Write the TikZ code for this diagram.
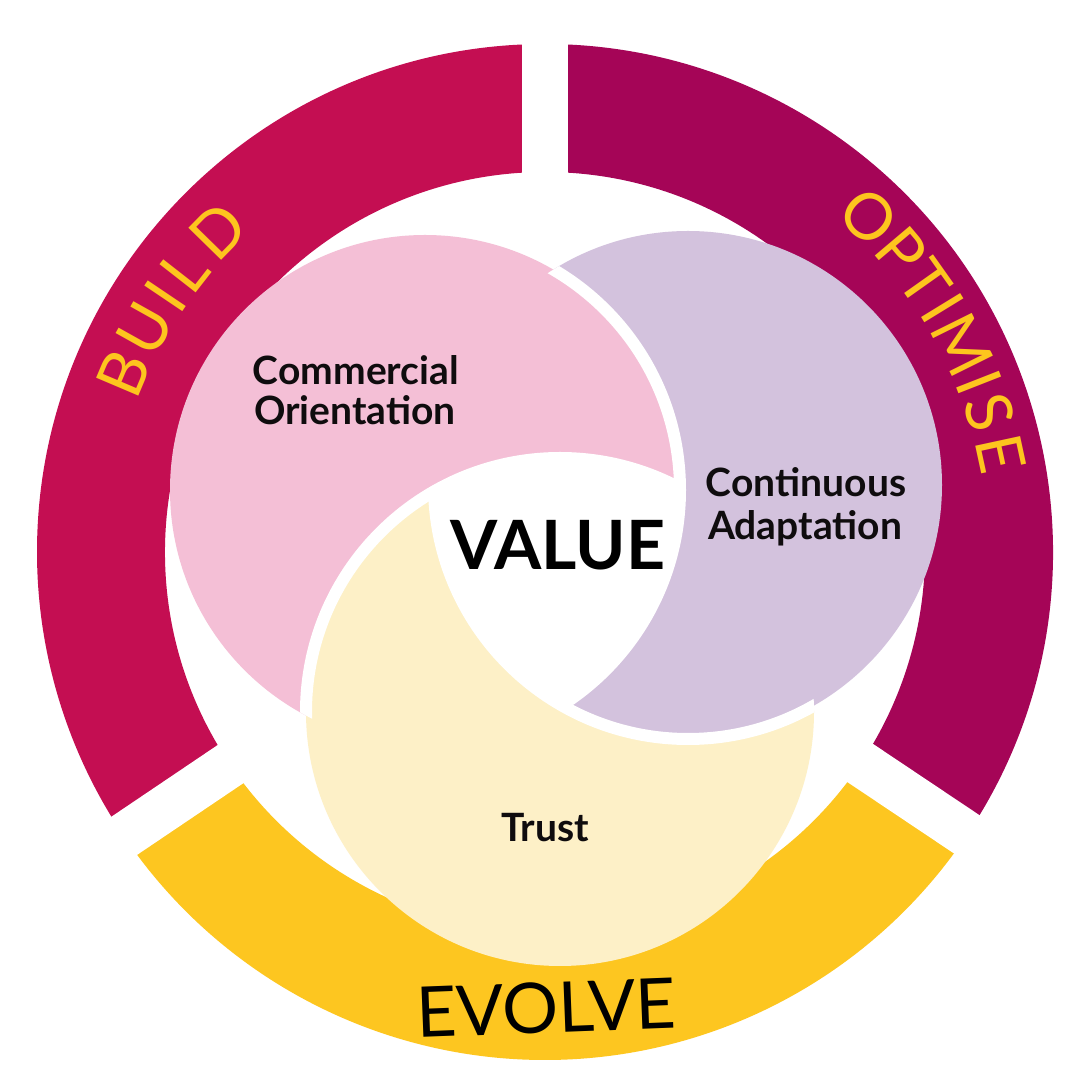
\documentclass[tikz,border=0pt]{standalone}
\usepackage{fontspec}
\setmainfont{Lato}
\usetikzlibrary{calc}
\definecolor{buildc}{RGB}{196,14,82}
\definecolor{optc}{RGB}{165,5,87}
\definecolor{evolvec}{RGB}{253,198,32}
\definecolor{pinkc}{RGB}{244,191,214}
\definecolor{purpc}{RGB}{211,194,221}
\definecolor{yelc}{RGB}{253,240,199}
\definecolor{ringtext}{RGB}{253,197,30}
\definecolor{ink}{RGB}{15,12,14}
\begin{document}
\begin{tikzpicture}[x=1pt,y=1pt,
  ringlet/.style={inner sep=0pt, text=ringtext, font=\fontsize{64}{64}\selectfont, anchor=center},
  lab/.style={inner sep=0pt, text=ink, font=\bfseries\fontsize{39}{40}\selectfont, anchor=base},
  gapline/.style={white, line width=46pt},
  swirl/.style={white, line width=12pt}]
\useasboundingbox (0,0) rectangle (1080,1080);
\fill[white] (0,0) rectangle (1080,1080);
\coordinate (C) at (545,528);
\def\Ri{380}
\def\Ro{508}
% ring sectors
\fill[buildc,shift={(545,528)}] (90:\Ro) arc[start angle=90,end angle=214,radius=\Ro] -- (214:\Ri) arc[start angle=214,end angle=90,radius=\Ri] -- cycle;
\fill[optc,shift={(545,528)}] (-34:\Ro) arc[start angle=-34,end angle=90,radius=\Ro] -- (90:\Ri) arc[start angle=90,end angle=-34,radius=\Ri] -- cycle;
\fill[evolvec,shift={(545,528)}] (214:\Ro) arc[start angle=214,end angle=326,radius=\Ro] -- (326:\Ri) arc[start angle=326,end angle=214,radius=\Ri] -- cycle;
% gaps
\draw[gapline] (C) -- ++(90:540);
\draw[gapline] (C) -- ++(214:540);
\draw[gapline] (C) -- ++(-33.8:540);
% ring labels
\foreach \l/\a [count=\i] in {B/157.0,U/150.8,I/146.0,L/142.0,D/135.6}
  \node[ringlet, rotate=\a-90] (build\i) at ($(C)+(\a:458)$) {\l};
\foreach \l/\a [count=\i] in {O/46.0,P/40.2,T/35.3,I/31.5,M/26.4,I/21.4,S/17.4,E/12.2}
  \node[ringlet, rotate=\a-90] (opt\i) at ($(C)+(\a:466)$) {\l};
\node[inner sep=0pt, text=black, font=\fontsize{70}{70}\selectfont, anchor=base, rotate=2.2] (evolve) at (547,47) {EVOLVE};
% circles
\coordinate (P) at (425,590);
\coordinate (U) at (688,595);
\coordinate (Y) at (560,368);
\fill[yelc] (Y) circle[radius=254];
\fill[purpc] (U) circle[radius=254];
\fill[pinkc] (P) circle[radius=255];
\begin{scope}
  \clip (P) circle[radius=257.5];
  \fill[yelc] (Y) circle[radius=254];
\end{scope}
\begin{scope}
  \clip (P) circle[radius=255];
  \clip (U) circle[radius=254];
  \fill[white] (Y) circle[radius=254];
\end{scope}
% swirl gaps
\begin{scope}
  \clip (U) circle[radius=254];
  \draw[swirl] (P) circle[radius=255];
\end{scope}
\begin{scope}
  \clip (P) circle[radius=255];
  \draw[swirl] (Y) circle[radius=254];
\end{scope}
\begin{scope}
  \clip (Y) circle[radius=254];
  \draw[swirl] (U) circle[radius=254];
\end{scope}
% labels
\node[lab] (co1) at (356,695) {Commercial};
\node[lab] (co2) at (355,655) {Orientation};
\node[lab] (ca1) at (806,583) {Continuous};
\node[lab] (ca2) at (805,540) {Adaptation};
\node[lab] (trust) at (545,238) {Trust};
\node[inner sep=0pt, text=black, font=\bfseries\fontsize{68}{68}\selectfont, anchor=base] (value) at (558,510) {VALUE};
\end{tikzpicture}
\end{document}
